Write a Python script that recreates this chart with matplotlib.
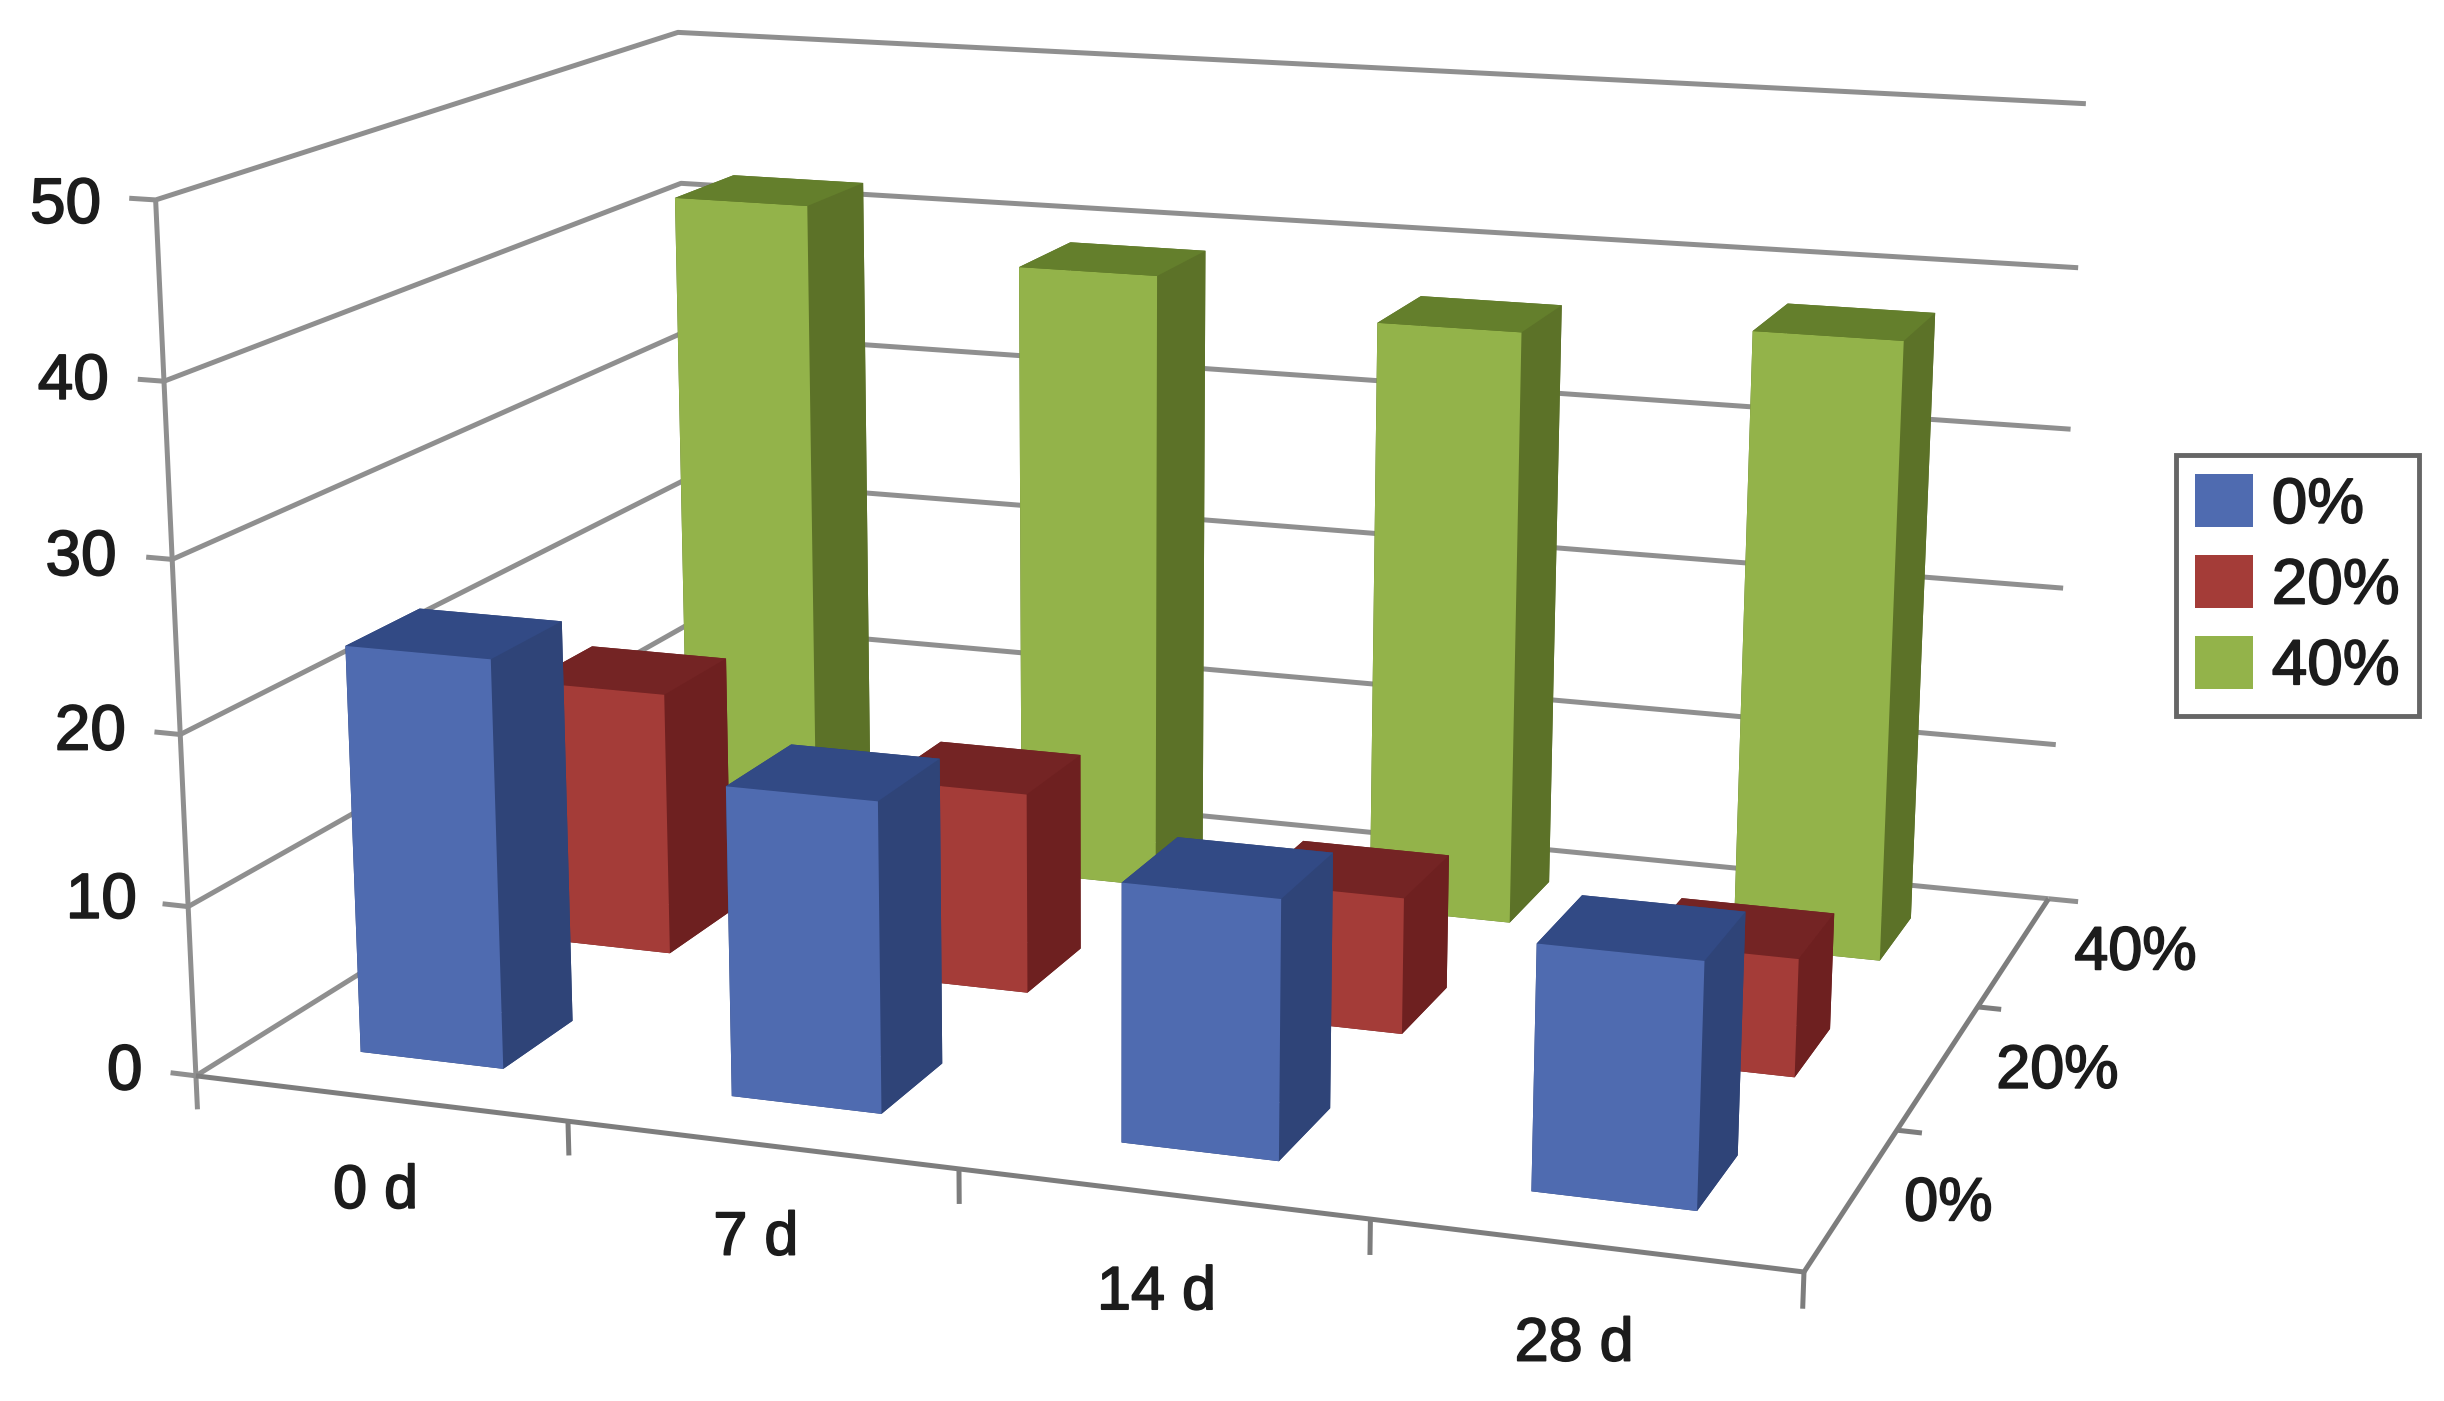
import numpy as np
import matplotlib
matplotlib.use('Agg')
import matplotlib.pyplot as plt
import matplotlib.patheffects as pe
from matplotlib.patches import Patch
from mpl_toolkits.mplot3d.art3d import Line3DCollection

plt.rcParams['font.family'] = ['Liberation Sans', 'DejaVu Sans']

days = ['0 d', '7 d', '14 d', '28 d']
levels = ['0%', '20%', '40%']
z_ticks = [0, 10, 20, 30, 40, 50]

vals_0 = [24, 18, 14.8, 13.8]
vals_20 = [16.2, 12.2, 8.2, 7]
vals_40 = [42, 39, 37, 38]
all_vals = [vals_0, vals_20, vals_40]

front = ['#4f6bb0', '#a43c38', '#93b34a']
side = ['#2f4478', '#6e2020', '#5c7228']
top = ['#324a85', '#742424', '#647f2c']
grid_col = '#8f8f8f'
axis_col = '#7d7d7d'
txt_col = '#1c1c1c'

W, H = 2444, 1401
S = W / 1568  # picture was measured at 1568 wide


def px(x, y):
    return x * S / W, 1 - y * S / H


fig = plt.figure(figsize=(W / 100, H / 100), dpi=100)
ax = fig.add_axes([0, -(W - H) / 2 / H, 1, W / H], projection='3d')
ax.set_axis_off()
ax.set_xticks([])
ax.set_yticks([])
ax.set_zticks([])
ax.set_xlim(0, 4)
ax.set_ylim(0, 3)
ax.set_zlim(0, 50)
ax.computed_zorder = False
ax.apply_aspect()

# camera: fit the projection to the corners of the chart box
box = [(0, 0, 0), (4, 0, 0), (4, 3, 0), (0, 3, 0), (0, 0, 50), (4, 3, 50), (0, 3, 50)]
seen = [(125, 685), (1158, 820), (1314, 572), (445, 497), (100, 130), (1338, 68), (435, 18)]
view = ax.transData.inverted().transform([(x * S, H - y * S) for x, y in seen])
A, b = [], []
for (x, y, z), (u, v) in zip(box, view):
    A.append([x, y, z, 1, 0, 0, 0, 0, -u * x, -u * y, -u * z])
    b.append(u)
    A.append([0, 0, 0, 0, x, y, z, 1, -v * x, -v * y, -v * z])
    b.append(v)
p = np.linalg.lstsq(np.array(A), np.array(b), rcond=None)[0]
M = np.array([[p[0], p[1], p[2], p[3]],
              [p[4], p[5], p[6], p[7]],
              [-0.3 / 4, 1 / 3, -0.2 / 50, 0],
              [p[8], p[9], p[10], 1]])
ax.get_proj = lambda: M

# walls and floor
segs = []
for t in z_ticks:
    segs.append([(-0.07, 0, t), (0, 0, t), (0, 3, t), (4, 3, t)])
segs.append([(0, 0, -2), (0, 0, 50)])
segs.append([(4, 3, 0), (4.08, 3, 0)])
ax.add_collection3d(Line3DCollection(segs, colors=grid_col, linewidths=3.6, zorder=1), autolim=False)
segs = [[(0, 0, 0), (4, 0, 0), (4, 3, 0)]]
for i in range(1, 5):
    segs.append([(i, 0, 0), (i, 0, -2)])
for j in range(1, 3):
    segs.append([(4, j, 0), (4.06, j, 0)])
ax.add_collection3d(Line3DCollection(segs, colors=axis_col, linewidths=3.6, zorder=1), autolim=False)

# bars, back row first
bw = 0.39
bd = 0.4
order = 2
for j in [2, 1, 0]:
    for i, v in enumerate(all_vals[j]):
        # bar3d faces: bottom, top, front, back, left, right
        cols = [side[j], top[j], front[j], side[j], side[j], side[j]]
        ax.bar3d(i + 0.49 - bw / 2, j + 0.5 - bd / 2, 0, bw, bd, v, color=cols,
                 shade=False, linewidth=0, zorder=order)
        order += 1

bolder = [pe.withStroke(linewidth=1.2, foreground=txt_col)]
for t, (x, y) in zip(z_ticks, [(80, 688), (65, 578), (58, 470), (52, 358), (47, 245), (42, 132)]):
    fx, fy = px(x, y)
    fig.text(fx, fy, str(t), fontsize=46, ha='center', va='center', color=txt_col, path_effects=bolder)
for d, (x, y) in zip(days, [(241, 765), (485, 795), (742, 830), (1010, 863)]):
    fx, fy = px(x, y)
    fig.text(fx, fy, d, fontsize=44, ha='center', va='center', color=txt_col, path_effects=bolder)
for l, (x, y) in zip(levels, [(1250, 773), (1320, 688), (1370, 612)]):
    fx, fy = px(x, y)
    fig.text(fx, fy, l, fontsize=44, ha='center', va='center', color=txt_col, path_effects=bolder)

handles = [Patch(facecolor=front[k], label=levels[k]) for k in range(3)]
leg = fig.legend(handles=handles, loc='upper left', bbox_to_anchor=px(1396, 292), borderaxespad=0,
                 fontsize=46, frameon=True, fancybox=False, edgecolor='#666666', framealpha=1,
                 handlelength=0.9, handleheight=0.9, labelspacing=0.3, borderpad=0.3,
                 handletextpad=0.3, labelcolor=txt_col)
leg.get_frame().set_linewidth(3.5)
for t in leg.get_texts():
    t.set_path_effects(bolder)

fig.savefig('out.png', dpi=100)
